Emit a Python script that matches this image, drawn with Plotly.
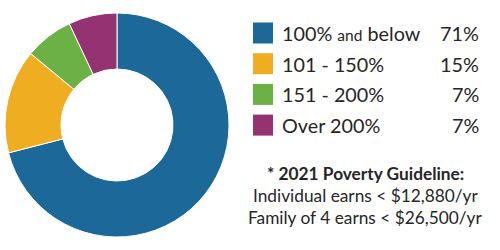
import plotly.graph_objects as go

categories = ["100% and below", "101 - 150%", "151 - 200%", "Over 200%"]
label_html = ["100% <span style='font-size:15.5px'>and</span> below", "101 - 150%", "151 - 200%", "Over 200%"]
values = [71, 15, 7, 7]
pct_labels = ["71%", "15%", "7%", "7%"]
colors = ["#1b6899", "#efae21", "#6cb145", "#953272"]
note_title = "* 2021 Poverty Guideline:"
note_lines = ["Individual earns < $12,880/yr", "Family of 4 earns < $26,500/yr"]

W, H = 500, 250
FONT = "Lato"
TXT = "#262626"

fig = go.Figure()
fig.add_trace(go.Pie(
    labels=categories, values=values, hole=0.5, sort=False,
    direction="clockwise", rotation=0,
    marker=dict(colors=colors, line=dict(color="white", width=1)),
    textinfo="none", hoverinfo="label+percent", showlegend=False,
    domain=dict(x=[4 / W, 230 / W], y=[13 / H, 237 / H]),
))

shapes = []
annotations = []
row_y0 = 33
row_step = 30.7
for i, (lab, pct, col) in enumerate(zip(label_html, pct_labels, colors)):
    yc = row_y0 + i * row_step
    shapes.append(dict(type="rect", xref="paper", yref="paper",
                       x0=253 / W, x1=273 / W,
                       y0=1 - (yc - 10.5) / H, y1=1 - (yc + 10.5) / H,
                       fillcolor=col, line=dict(width=0)))
    annotations.append(dict(xref="paper", yref="paper", x=280 / W, y=1 - yc / H,
                            xanchor="left", yanchor="middle", showarrow=False,
                            text=lab, font=dict(family=FONT, size=19.8, color=TXT)))
    annotations.append(dict(xref="paper", yref="paper", x=481 / W, y=1 - yc / H,
                            xanchor="right", yanchor="middle", showarrow=False,
                            text=pct, font=dict(family=FONT, size=19.8, color=TXT)))

annotations.append(dict(xref="paper", yref="paper", x=365 / W, y=1 - 173 / H,
                        xanchor="center", yanchor="middle", showarrow=False,
                        text="<b>" + note_title + "</b>",
                        font=dict(family=FONT, size=17.3, color=TXT)))
for j, line in enumerate(note_lines):
    annotations.append(dict(xref="paper", yref="paper", x=365 / W, y=1 - (195 + 22 * j) / H,
                            xanchor="center", yanchor="middle", showarrow=False,
                            text=line, font=dict(family=FONT, size=17.3, color=TXT)))

fig.update_layout(width=W, height=H, margin=dict(l=0, r=0, t=0, b=0),
                  paper_bgcolor="white", plot_bgcolor="white",
                  shapes=shapes, annotations=annotations)
fig.write_html("out.html")
